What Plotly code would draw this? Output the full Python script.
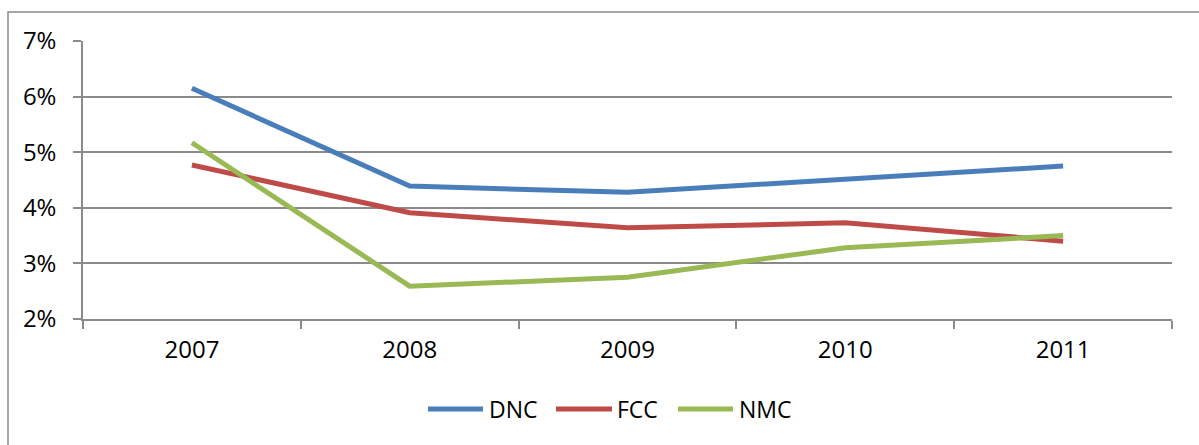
import plotly.graph_objects as go

# Yearly rates (%) for three series
years = ["2007", "2008", "2009", "2010", "2011"]
dnc = [6.15, 4.39, 4.28, 4.51, 4.75]
fcc = [4.77, 3.91, 3.64, 3.73, 3.40]
nmc = [5.17, 2.59, 2.75, 3.28, 3.50]

series_names = ["DNC", "FCC", "NMC"]
series_values = [dnc, fcc, nmc]
colors = ["#4A7EBB", "#BE4B48", "#98B954"]

W, H = 1199, 445
ML, MR, MT, MB = 83, 27, 41, 126
PW, PH = W - ML - MR, H - MT - MB
GRID = "#8A8A8A"
FONT = "Open Sans"


def px_x(px):
    return (px - ML) / PW


def px_y(py):
    return (H - MB - py) / PH


fig = go.Figure()
for name, vals, col in zip(series_names, series_values, colors):
    fig.add_trace(go.Scatter(
        x=years, y=vals, mode="lines", name=name,
        line=dict(color=col, width=5), showlegend=False,
    ))

shapes = []
annotations = []

# Outer chart border (only top and left edges fall inside the page)
shapes.append(dict(type="rect", xref="paper", yref="paper",
                   x0=px_x(8), x1=px_x(1260), y0=px_y(500), y1=px_y(12),
                   line=dict(color="#8C8C8C", width=1.5), layer="below"))

# Legend: short line sample followed by its label
legend_items = [(428, 483, 487), (556, 612, 615), (678, 733, 737)]
for (lx0, lx1, tx), name, col in zip(legend_items, series_names, colors):
    shapes.append(dict(type="line", xref="paper", yref="paper",
                       x0=px_x(lx0), x1=px_x(lx1), y0=px_y(409), y1=px_y(409),
                       line=dict(color=col, width=5)))
    annotations.append(dict(text=name, xref="paper", yref="paper",
                            x=px_x(tx), y=px_y(409), xanchor="left", yanchor="middle",
                            showarrow=False, font=dict(family=FONT, size=23, color="#000")))

fig.update_layout(
    width=W, height=H,
    margin=dict(l=ML, r=MR, t=MT, b=MB),
    paper_bgcolor="white", plot_bgcolor="white",
    shapes=shapes, annotations=annotations,
    font=dict(family=FONT, color="#000"),
)

fig.update_xaxes(
    type="category", range=[-0.5, 4.5],
    showgrid=False, showline=True, linecolor=GRID, linewidth=1.5,
    ticks="outside", tickson="boundaries", ticklen=8, tickwidth=1.5, tickcolor=GRID,
    tickfont=dict(family=FONT, size=24, color="#000"),
    ticklabelstandoff=8,
)
fig.update_yaxes(
    range=[2, 7], dtick=1, tickformat=".0f", ticksuffix="%",
    showgrid=True, gridcolor=GRID, gridwidth=1.5,
    showline=True, linecolor=GRID, linewidth=1.5,
    ticks="outside", ticklen=8, tickwidth=1.5, tickcolor=GRID,
    tickfont=dict(family=FONT, size=24, color="#000"),
    ticklabelstandoff=12, zeroline=False,
)

fig.write_html("out.html")
